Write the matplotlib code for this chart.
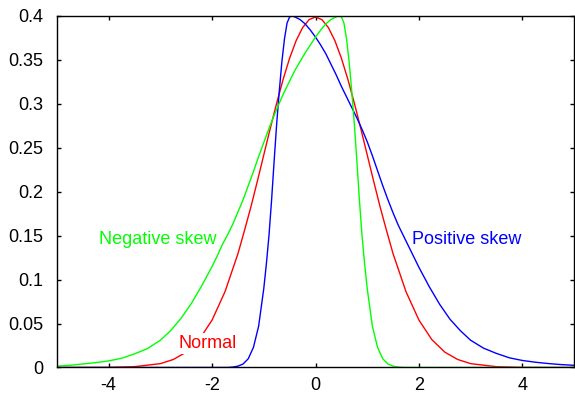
import matplotlib
matplotlib.use("Agg")
import matplotlib.pyplot as plt

plt.rcParams['font.family'] = ['Liberation Sans', 'DejaVu Sans']
plt.rcParams['axes.unicode_minus'] = False

# Normal curve
normal_x = [-5.0, -4.5, -4.0, -3.5, -3.0, -2.75, -2.5, -2.25, -2.0, -1.75,
            -1.5, -1.375, -1.25, -1.125, -1.0, -0.875, -0.75, -0.625, -0.5,
            -0.375, -0.25, -0.125, 0.0, 0.125, 0.25, 0.375, 0.5, 0.625, 0.75,
            0.875, 1.0, 1.125, 1.25, 1.375, 1.5, 1.75, 2.0, 2.25, 2.5, 2.75,
            3.0, 3.5, 4.0, 4.5, 5.0]
normal_y = [0.0, 0.0, 0.0001, 0.0009, 0.0044, 0.0091, 0.0175, 0.0317, 0.0540,
            0.0863, 0.1295, 0.1556, 0.1826, 0.2119, 0.2420, 0.2721, 0.3011,
            0.3281, 0.3521, 0.3719, 0.3867, 0.3958, 0.3989, 0.3958, 0.3867,
            0.3719, 0.3521, 0.3281, 0.3011, 0.2721, 0.2420, 0.2119, 0.1826,
            0.1556, 0.1295, 0.0863, 0.0540, 0.0317, 0.0175, 0.0091, 0.0044,
            0.0009, 0.0001, 0.0, 0.0]

# Positive skew: steep left side, long right tail
pos_x = [-5.0, -1.7, -1.6, -1.5, -1.4, -1.3, -1.2, -1.1, -1.0, -0.95, -0.9,
         -0.85, -0.8, -0.75, -0.7, -0.65, -0.6, -0.55, -0.5, -0.45, -0.4,
         -0.3, -0.2, -0.1, 0.0, 0.1, 0.2, 0.3, 0.4, 0.5, 0.6, 0.7, 0.8, 0.9,
         1.0, 1.1, 1.2, 1.3, 1.4, 1.5, 1.6, 1.7, 1.8, 1.9, 2.0, 2.2, 2.4,
         2.6, 2.8, 3.0, 3.25, 3.5, 3.75, 4.0, 4.25, 4.5, 4.75, 5.0]
pos_y = [0.0, 0.0, 0.0005, 0.0015, 0.004, 0.010, 0.023, 0.047, 0.090, 0.118,
         0.150, 0.190, 0.235, 0.278, 0.315, 0.348, 0.374, 0.392, 0.399, 0.400,
         0.399, 0.396, 0.391, 0.384, 0.376, 0.367, 0.357, 0.345, 0.333, 0.320,
         0.308, 0.296, 0.284, 0.271, 0.257, 0.241, 0.224, 0.207, 0.191, 0.176,
         0.162, 0.150, 0.138, 0.126, 0.114, 0.092, 0.072, 0.055, 0.042, 0.031,
         0.022, 0.016, 0.011, 0.008, 0.006, 0.0045, 0.0033, 0.0025]

# Negative skew: long left tail, steep right side
neg_x = [-5.0, -4.75, -4.5, -4.25, -4.0, -3.75, -3.5, -3.25, -3.0, -2.8,
         -2.6, -2.4, -2.2, -2.0, -1.9, -1.8, -1.7, -1.6, -1.5, -1.4, -1.3,
         -1.2, -1.1, -1.0, -0.9, -0.8, -0.7, -0.6, -0.5, -0.4, -0.3, -0.2,
         -0.1, 0.0, 0.1, 0.2, 0.3, 0.4, 0.45, 0.5, 0.55, 0.6, 0.65, 0.7, 0.75,
         0.8, 0.85, 0.9, 0.95, 1.0, 1.1, 1.2, 1.3, 1.4, 1.5, 1.6, 1.7, 5.0]
neg_y = [0.0015, 0.0025, 0.0040, 0.0055, 0.0075, 0.0105, 0.0155, 0.0215,
         0.031, 0.042, 0.056, 0.073, 0.093, 0.115, 0.127, 0.140, 0.151,
         0.163, 0.177, 0.191, 0.207, 0.223, 0.240, 0.256, 0.272, 0.287,
         0.301, 0.314, 0.326, 0.338, 0.348, 0.358, 0.367, 0.376, 0.384,
         0.391, 0.396, 0.399, 0.400, 0.399, 0.392, 0.374, 0.348, 0.315,
         0.278, 0.235, 0.190, 0.150, 0.118, 0.090, 0.047, 0.023, 0.010,
         0.004, 0.0015, 0.0005, 0.0, 0.0]

x_ticks = [-4, -2, 0, 2, 4]
y_ticks = [0, 0.05, 0.1, 0.15, 0.2, 0.25, 0.3, 0.35, 0.4]
y_tick_labels = ["0", "0.05", "0.1", "0.15", "0.2", "0.25", "0.3", "0.35", "0.4"]

fig = plt.figure(figsize=(5.75, 3.96), dpi=100)
ax = fig.add_axes([0.0991, 0.072, 0.8992, 0.8876])

ax.plot(normal_x, normal_y, color='#ff0000', lw=1.0)
ax.plot(pos_x, pos_y, color='#0000ff', lw=1.0)
ax.plot(neg_x, neg_y, color='#00ff00', lw=1.0)

# Curve labels; the white box breaks the red line behind "Normal"
ax.text(-3.06, 0.146, "Negative skew", color='#00ff00', fontsize=13,
        ha='center', va='center')
ax.text(2.92, 0.146, "Positive skew", color='#0000ff', fontsize=13,
        ha='center', va='center')
ax.text(-2.08, 0.027, "Normal", color='#ff0000', fontsize=13,
        ha='center', va='center', zorder=5,
        bbox=dict(facecolor='white', edgecolor='none', pad=1.5))

ax.set_xlim(-5, 5)
ax.set_ylim(0, 0.4)
ax.set_xticks(x_ticks)
ax.set_xticklabels([str(t) for t in x_ticks])
ax.set_yticks(y_ticks)
ax.set_yticklabels(y_tick_labels)
ax.tick_params(direction='in', length=3, width=1, top=True, right=True,
               labelsize=13, colors='black')
ax.tick_params(axis='y', pad=10)
ax.tick_params(axis='x', pad=7)
for s in ax.spines.values():
    s.set_linewidth(1.0)

fig.savefig("out.png", dpi=100)
